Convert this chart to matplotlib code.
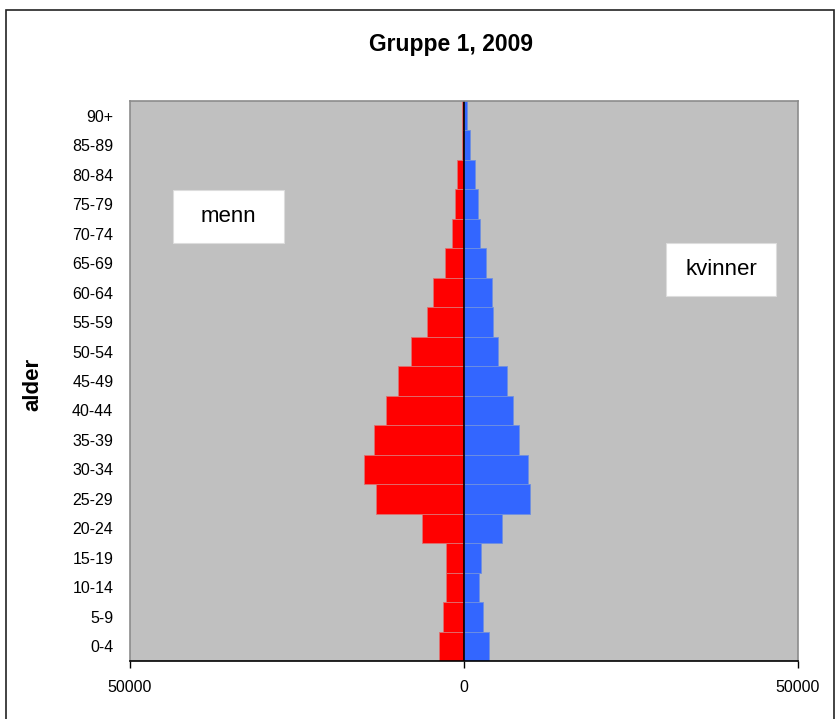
import numpy as np
import matplotlib
matplotlib.use('Agg')
import matplotlib.pyplot as plt
from matplotlib.patches import Rectangle

plt.rcParams['font.family'] = ['Liberation Sans', 'DejaVu Sans']

# age groups, youngest first
ages = ['0-4', '5-9', '10-14', '15-19', '20-24', '25-29', '30-34', '35-39',
        '40-44', '45-49', '50-54', '55-59', '60-64', '65-69', '70-74',
        '75-79', '80-84', '85-89', '90+']
menn = [3800, 3100, 2650, 2650, 6250, 13100, 14900, 13500,
        11700, 9950, 7900, 5600, 4700, 2900, 1750,
        1300, 1100, 350, 350]
kvinner = [3700, 2800, 2300, 2550, 5750, 9850, 9650, 8250,
           7350, 6400, 5100, 4400, 4200, 3250, 2350,
           2150, 1700, 950, 500]
xticks = [-50000, 0, 50000]
xticklabels = ['50000', '0', '50000']

W, H = 839, 719
fig = plt.figure(figsize=(W / 100.0, H / 100.0), dpi=100)
fig.patch.set_facecolor('white')

# outer chart frame
fig.patches.append(Rectangle((6.0 / W, -0.01), 828.0 / W, 1 - 10.0 / H + 0.01,
                             transform=fig.transFigure, fill=False,
                             edgecolor='#222222', linewidth=1.2))

ax = fig.add_axes([130.0 / W, 1 - 661.0 / H, 668.0 / W, 560.0 / H])
ax.set_facecolor('#C0C0C0')

y = np.arange(len(ages))
ax.barh(y, -np.array(menn), height=1.0, color='#FF0000',
        edgecolor='#E07070', linewidth=0.6)
ax.barh(y, kvinner, height=1.0, color='#3366FF',
        edgecolor='#7090E0', linewidth=0.6)
ax.axvline(0, color='black', linewidth=1.2)

ax.set_xlim(-50000, 50000)
ax.set_ylim(-0.5, len(ages) - 0.5)
ax.set_yticks(y)
ax.set_yticklabels(ages, fontsize=11.5)
ax.tick_params(axis='y', length=0, pad=12)
ax.set_xticks(xticks)
ax.set_xticklabels(xticklabels, fontsize=11.5)
ax.tick_params(axis='x', direction='out', length=5, width=1, pad=9)

for s in ['top', 'right', 'left']:
    ax.spines[s].set_color('#8C8C8C')
    ax.spines[s].set_linewidth(1.2)
ax.spines['bottom'].set_color('black')
ax.spines['bottom'].set_linewidth(1.2)

fig.text(451.0 / W, 1 - 45.0 / H, 'Gruppe 1, 2009', ha='center', va='center',
         fontsize=16.5, fontweight='bold')
fig.text(33.0 / W, 1 - 384.0 / H, 'alder', ha='center', va='center',
         rotation=90, fontsize=16, fontweight='bold')

# white label boxes
for label, (x0, y0, x1, y1) in [('menn', (173, 190, 284, 243)),
                                ('kvinner', (666, 243, 776, 296))]:
    fig.patches.append(Rectangle((x0 / W, 1 - y1 / H), (x1 - x0) / W, (y1 - y0) / H,
                                 transform=fig.transFigure, facecolor='white',
                                 edgecolor='#DDDDDD', linewidth=0.8, zorder=3))
    fig.text((x0 + x1) / 2.0 / W, 1 - (y0 + y1) / 2.0 / H, label,
             ha='center', va='center', fontsize=16, zorder=4)

plt.savefig('out.png', dpi=100)
